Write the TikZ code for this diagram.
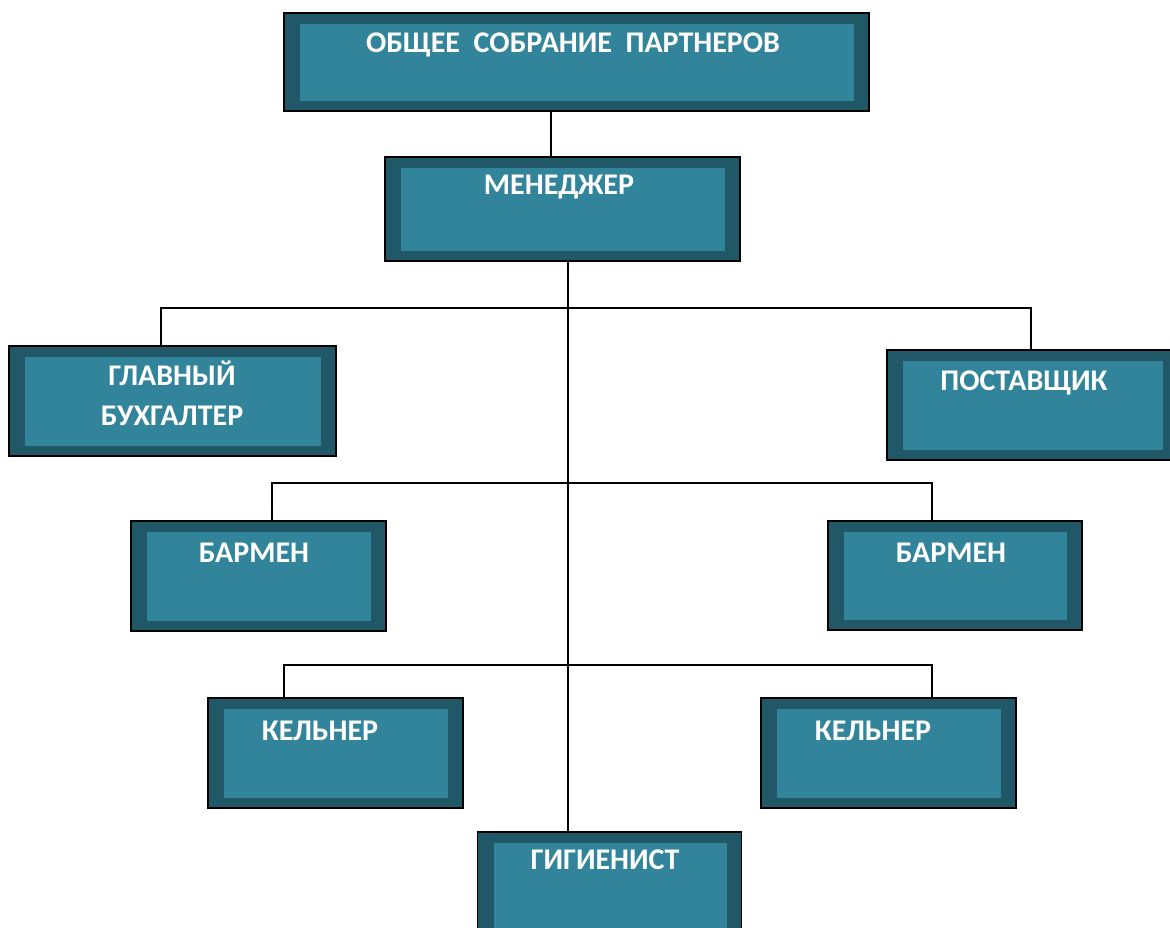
\documentclass[tikz,border=0pt]{standalone}
\usepackage{fontspec}
\setmainfont{Carlito}
\usepackage{tikz}
\definecolor{tealout}{RGB}{33,88,104}
\definecolor{tealin}{RGB}{50,132,155}

\tikzset{
  blok/.style={draw=black, line width=1.5pt, fill=tealout, inner sep=0pt,
    path picture={\fill[tealin] ([xshift=16pt,yshift=10pt]path picture bounding box.south west)
      rectangle ([xshift=-15pt,yshift=-11pt]path picture bounding box.north east);}},
  lbl/.style={text=white, font=\bfseries\fontsize{30}{40}\selectfont, anchor=base, inner sep=0pt, align=center},
  svaz/.style={line width=1.5pt, black}
}

\begin{document}
\begin{tikzpicture}[x=1pt,y=-1pt]
			%Config
			\useasboundingbox (0,0) rectangle (1170,928);
			\clip (0,0) rectangle (1170,928);

			%Blocos
			\node[blok, minimum width=585, minimum height=98] (top) at (576.5,62) {};
			\node[blok, minimum width=355, minimum height=104] (mgr) at (562.5,209) {};
			\node[blok, minimum width=327, minimum height=110] (buh) at (172.5,401) {};
			\node[blok, minimum width=291, minimum height=110] (post) at (1032.5,405) {};
			\node[blok, minimum width=255, minimum height=110] (barL) at (258.5,576) {};
			\node[blok, minimum width=254, minimum height=109] (barR) at (955,575.5) {};
			\node[blok, minimum width=255, minimum height=110] (kelL) at (335.5,753) {};
			\node[blok, minimum width=255, minimum height=110] (kelR) at (888.5,753) {};
			\node[blok, minimum width=264, minimum height=110] (gig) at (609.5,887) {};

			%Textos
			\node[lbl] (t-top) at (573,53) {ОБЩЕЕ\ \ СОБРАНИЕ\ \ ПАРТНЕРОВ};
			\node[lbl] (t-mgr) at (559,195) {МЕНЕДЖЕР};
			\node[lbl] (t-buh1) at (172,385) {ГЛАВНЫЙ};
			\node[lbl] (t-buh2) at (172,425) {БУХГАЛТЕР};
			\node[lbl] (t-post) at (1024,390) {ПОСТАВЩИК};
			\node[lbl] (t-barL) at (254,562) {БАРМЕН};
			\node[lbl] (t-barR) at (951,562) {БАРМЕН};
			\node[lbl] (t-kelL) at (320,740) {КЕЛЬНЕР};
			\node[lbl] (t-kelR) at (873,740) {КЕЛЬНЕР};
			\node[lbl] (t-gig) at (605,869) {ГИГИЕНИСТ};

			%Ligacoes
			\coordinate (r1) at (568,308);
			\coordinate (r2) at (568,483);
			\coordinate (r3) at (568,665);
			\draw[svaz] ([xshift=-25.5pt]top.south) -- ([xshift=-25.5pt]top.south |- mgr.north);
			\draw[svaz] ([xshift=5.5pt]mgr.south) -- ([xshift=5.5pt]mgr.south |- gig.north);
			\draw[svaz] ([xshift=-11.5pt]buh.north) |- (r1) -| ([xshift=-1.5pt]post.north);
			\draw[svaz] ([xshift=13.5pt]barL.north) |- (r2) -| ([xshift=-23pt]barR.north);
			\draw[svaz] ([xshift=-51.5pt]kelL.north) |- (r3) -| ([xshift=43.5pt]kelR.north);
\end{tikzpicture}
\end{document}
